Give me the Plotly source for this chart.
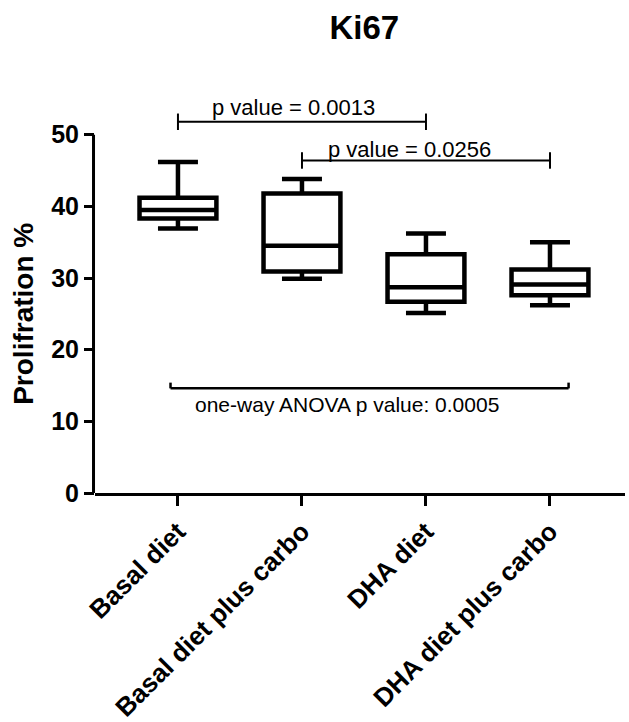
import plotly.graph_objects as go

categories = ["Basal diet", "Basal diet plus carbo", "DHA diet", "DHA diet plus carbo"]
q1 = [38.3, 30.9, 26.7, 27.6]
median = [39.5, 34.5, 28.7, 29.1]
q3 = [41.2, 41.8, 33.3, 31.2]
lower = [36.9, 29.9, 25.1, 26.2]
upper = [46.2, 43.8, 36.2, 35.0]

y_ticks = [0, 10, 20, 30, 40, 50]

# comparison brackets: (x start, x end, y level, label, label x, label y)
brackets = [
    (0, 2, 51.8, "p value = 0.0013", 0.93, 53.8),
    (1, 3, 46.4, "p value = 0.0256", 1.87, 48.0),
]
anova = (-0.06, 3.15, 14.6, "one-way ANOVA p value: 0.0005", 1.367, 12.4)

FONT = "Arial, Liberation Sans, sans-serif"

fig = go.Figure()
fig.add_trace(go.Box(
    x=categories, q1=q1, median=median, q3=q3,
    lowerfence=lower, upperfence=upper,
    boxpoints=False,
    width=0.62, whiskerwidth=0.52,
    line=dict(color="black", width=4.5),
    fillcolor="rgba(0,0,0,0)",
    showlegend=False, hoverinfo="skip",
))

shapes = []
annotations = []
for x0, x1, yv, txt, tx, ty in brackets:
    shapes.append(dict(type="line", xref="x", yref="y", x0=x0, x1=x1, y0=yv, y1=yv,
                       line=dict(color="black", width=2)))
    for xx in (x0, x1):
        shapes.append(dict(type="line", xref="x", yref="y", x0=xx, x1=xx,
                           y0=yv - 1.15, y1=yv + 1.15, line=dict(color="black", width=2)))
    annotations.append(dict(text=txt, x=tx, y=ty, xref="x", yref="y", showarrow=False,
                            xanchor="center", yanchor="middle",
                            font=dict(family=FONT, size=22, color="black")))

ax0, ax1, ay, atxt, atx, aty = anova
shapes.append(dict(type="line", xref="x", yref="y", x0=ax0, x1=ax1, y0=ay, y1=ay,
                   line=dict(color="black", width=2.5)))
for xx in (ax0, ax1):
    shapes.append(dict(type="line", xref="x", yref="y", x0=xx, x1=xx,
                       y0=ay, y1=ay + 0.8, line=dict(color="black", width=2.5)))
annotations.append(dict(text=atxt, x=atx, y=aty, xref="x", yref="y", showarrow=False,
                        xanchor="center", yanchor="middle",
                        font=dict(family=FONT, size=21, color="black")))

# y-axis title centred on the 0..50 span
annotations.append(dict(text="<b>Prolifration %</b>", textangle=-90,
                        x=-71 / 530, xref="paper", y=25, yref="y",
                        xanchor="center", yanchor="middle", showarrow=False,
                        font=dict(family=FONT, size=28, color="black")))

# y axis line only spanning 0..50
shapes.append(dict(type="line", xref="paper", yref="y", x0=-0.0028, x1=-0.0028,
                   y0=0, y1=50, line=dict(color="black", width=3)))

fig.update_layout(
    template="none",
    width=629, height=722,
    margin=dict(l=95, r=4, t=106, b=229),
    paper_bgcolor="white", plot_bgcolor="white",
    title=dict(text="<b>Ki67</b>", x=0.508, xref="paper", y=1 - 27 / 722, yref="container",
               xanchor="center", yanchor="middle",
               font=dict(family=FONT, size=33, color="black")),
    shapes=shapes, annotations=annotations,
    font=dict(family=FONT, color="black"),
)
fig.update_xaxes(
    type="category", categoryorder="array", categoryarray=categories,
    range=[-0.669, 3.605], automargin=False,
    showline=True, linecolor="black", linewidth=3,
    ticks="outside", ticklen=10, tickwidth=3, tickcolor="black",
    tickangle=-45, tickfont=dict(family=FONT, size=26, color="black", weight=700),
    showgrid=False, zeroline=False,
)
fig.update_yaxes(
    range=[0, 54], tickvals=y_ticks, ticktext=[str(v) for v in y_ticks],
    showline=False, automargin=False,
    ticks="outside", ticklen=10, tickwidth=3, tickcolor="black",
    tickfont=dict(family=FONT, size=25, color="black", weight=700),
    showgrid=False, zeroline=False,
)

fig.write_html(
    "out.html",
    config={"displayModeBar": False},
    post_script="document.body.style.margin='0';document.body.style.padding='0';",
)
